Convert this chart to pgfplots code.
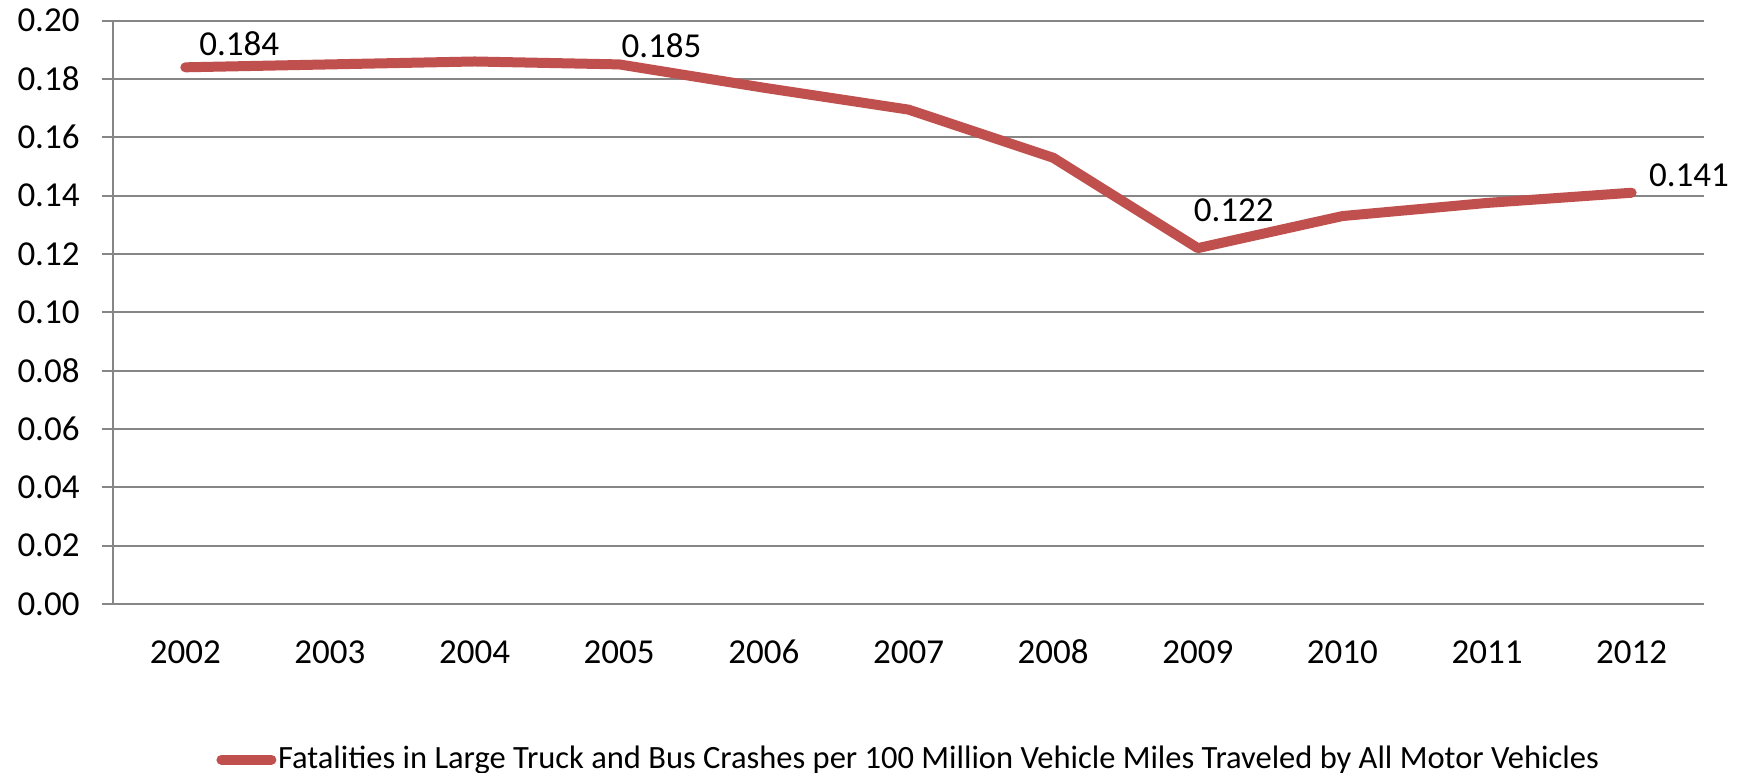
\documentclass[border=0pt]{standalone}
\usepackage{pgfplots}
\pgfplotsset{compat=1.18}
\usepackage{fontspec}
\setmainfont{Carlito}
\definecolor{serie}{HTML}{C0504D}
\definecolor{gridc}{HTML}{868686}
\begin{document}
\begin{tikzpicture}
\useasboundingbox (-33.9pt,-50.7pt) rectangle (491.1pt,181.2pt);
\begin{axis}[
  at={(0,0)}, anchor=south west,
  width=477.3pt, height=175pt, scale only axis,
  xmin=-0.5, xmax=10.5, ymin=0, ymax=0.2,
  axis x line*=bottom, axis y line*=left,
  axis line style={gridc, line width=0.6pt},
  xtick={0,...,10},
  xticklabels={2002,2003,2004,2005,2006,2007,2008,2009,2010,2011,2012},
  major x tick style={draw=none},
  extra x ticks={-0.5,0.5,1.5,2.5,3.5,4.5,5.5,6.5,7.5,8.5,9.5,10.5},
  extra x tick labels={},
  extra x tick style={major tick length=4pt, major x tick style={gridc, line width=0.6pt}, xtick align=outside, grid=none},
  ytick={0,0.02,...,0.2},
  y tick label style={/pgf/number format/fixed, /pgf/number format/fixed zerofill, /pgf/number format/precision=2},
  /pgf/number format/assume math mode=true,
  ymajorgrids, grid style={gridc, line width=0.6pt},
  y tick style={gridc, line width=0.6pt},
  ytick align=outside, major tick length=3.4pt,
  tick label style={font=\fontsize{10.5}{12}\selectfont, text=black},
  xticklabel style={anchor=base, yshift=-18pt},
  yticklabel style={xshift=-3.1pt},
  legend style={at={(axis description cs:0.5,0)}, anchor=center, yshift=-46.7pt,
     draw=none, fill=none, inner sep=0pt, outer sep=0pt,
     font=\fontsize{9.75}{11}\selectfont, legend cell align=left,
     nodes={inner sep=0.5pt},
     /tikz/every even column/.append style={column sep=0pt}},
  legend image code/.code={\draw[serie, line width=3pt, line cap=round] (1.5pt,0pt) -- (16.5pt,0pt);},
  clip=false,
]
\addplot[serie, line width=3pt, line join=round, line cap=round] coordinates {
 (0,0.184) (1,0.185) (2,0.186) (3,0.185) (4,0.177) (5,0.1695)
 (6,0.153) (7,0.122) (8,0.133) (9,0.1375) (10,0.141)
};
\addlegendentry{Fatalities in Large Truck and Bus Crashes per 100 Million Vehicle Miles Traveled by All Motor Vehicles}
\addplot[draw=none, forget plot, nodes near coords, point meta=explicit symbolic,
  nodes near coords style={anchor=base west, xshift=0.7pt, yshift=3.5pt, font=\fontsize{10.5}{12}\selectfont}]
  coordinates {(0,0.184) [0.184]};
\addplot[draw=none, forget plot, nodes near coords, point meta=explicit symbolic,
  nodes near coords style={anchor=base west, xshift=-2.8pt, yshift=2pt, font=\fontsize{10.5}{12}\selectfont}]
  coordinates {(3,0.185) [0.185]};
\addplot[draw=none, forget plot, nodes near coords, point meta=explicit symbolic,
  nodes near coords style={anchor=base west, xshift=-4.7pt, yshift=8pt, font=\fontsize{10.5}{12}\selectfont}]
  coordinates {(7,0.122) [0.122]};
\addplot[draw=none, forget plot, nodes near coords, point meta=explicit symbolic,
  nodes near coords style={anchor=base west, xshift=1.7pt, yshift=2pt, font=\fontsize{10.5}{12}\selectfont}]
  coordinates {(10,0.141) [0.141]};
\end{axis}
\end{tikzpicture}
\end{document}
